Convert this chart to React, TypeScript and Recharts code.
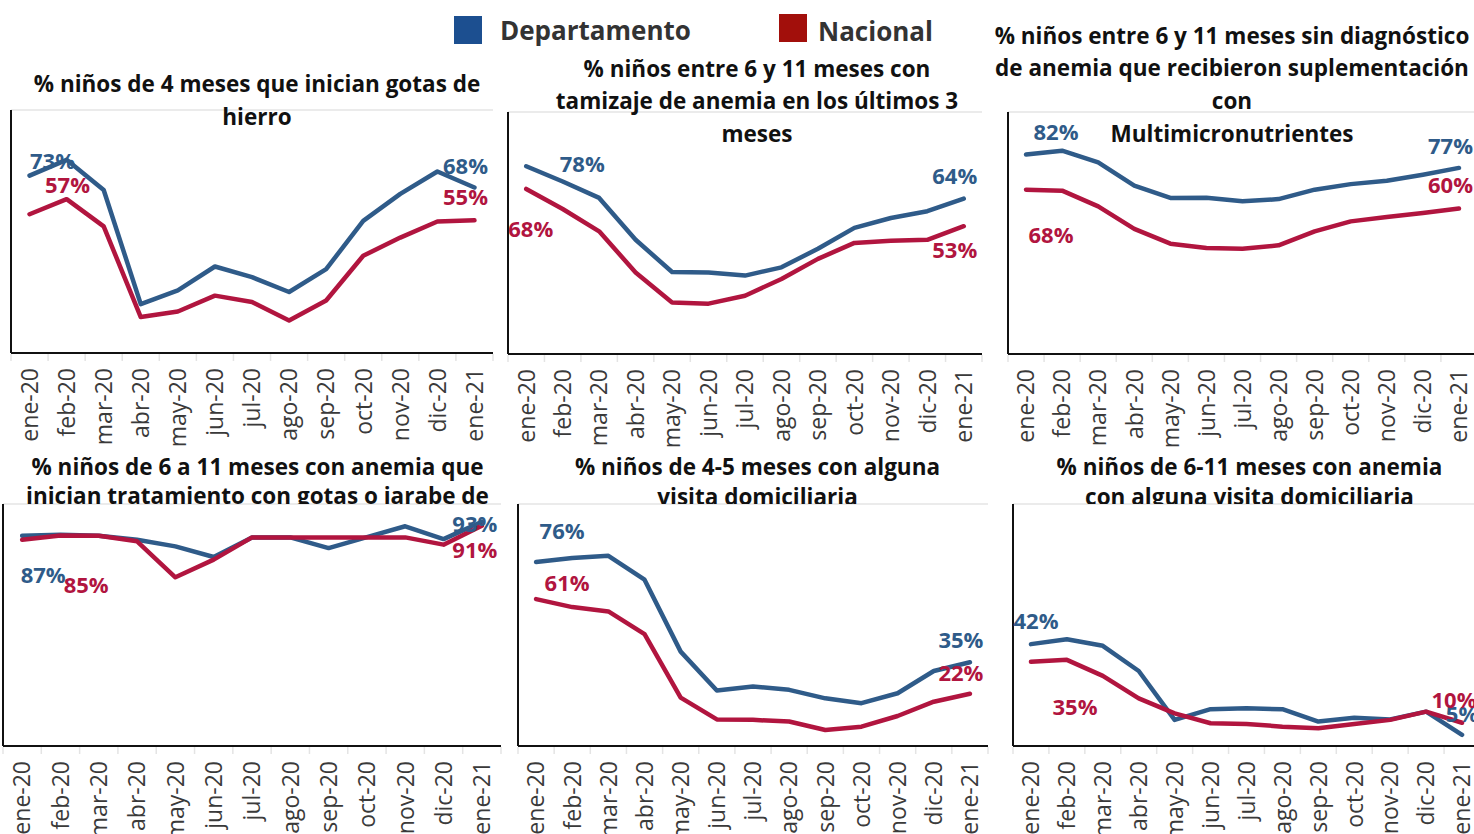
import React from 'react';
import { LineChart, Line, XAxis, YAxis, CartesianGrid } from 'recharts';

const months = ['ene-20', 'feb-20', 'mar-20', 'abr-20', 'may-20', 'jun-20', 'jul-20', 'ago-20', 'sep-20', 'oct-20', 'nov-20', 'dic-20', 'ene-21'];
const yTicks = [0, 10, 20, 30, 40, 50, 60, 70, 80, 90, 100];

const p1Dep = [73, 79.5, 67.1, 20.1, 25.8, 35.6, 31.2, 25.1, 34.5, 54.4, 65.5, 74.7, 68.1];
const p1Nac = [57.1, 63.3, 52.1, 14.8, 17.1, 23.6, 21.0, 13.4, 21.6, 40.0, 47.5, 54.1, 54.6];
const p2Dep = [77.6, 71.3, 64.5, 47.2, 33.9, 33.7, 32.4, 35.8, 43.5, 52.1, 56.2, 59.0, 64.2];
const p2Nac = [68.2, 59.9, 50.7, 33.7, 21.3, 20.8, 24.1, 31.0, 39.3, 45.9, 46.8, 47.2, 52.8];
const p3Dep = [82.4, 84.0, 79.2, 69.6, 64.5, 64.6, 63.1, 64.0, 67.9, 70.2, 71.6, 74.1, 76.9];
const p3Nac = [67.9, 67.5, 61.0, 51.7, 45.6, 43.8, 43.5, 44.9, 50.7, 54.8, 56.6, 58.3, 60.1];
const p4Dep = [86.9, 87.3, 86.9, 85.2, 82.5, 78.1, 86.2, 86.2, 81.8, 86.3, 90.8, 85.5, 92.6];
const p4Nac = [85.2, 87.0, 86.9, 84.6, 69.7, 77.0, 86.2, 86.2, 86.2, 86.2, 86.2, 83.2, 91.0];
const p5Dep = [76.0, 77.7, 78.6, 68.7, 39.0, 22.9, 24.6, 23.2, 19.7, 17.7, 21.8, 31.0, 34.6];
const p5Nac = [60.7, 57.4, 55.6, 46.2, 20.0, 11.0, 10.8, 10.1, 6.6, 8.0, 12.4, 18.3, 21.6];
const p6Dep = [42.1, 44.1, 41.4, 31.0, 10.8, 15.2, 15.6, 15.2, 10.1, 11.7, 11.0, 14.2, 4.6];
const p6Nac = [34.8, 35.6, 29.0, 19.7, 13.5, 9.4, 9.1, 8.0, 7.3, 9.1, 10.8, 14.2, 9.6];

const title1 = ['% niños de 4 meses que inician gotas de', 'hierro'];
const title2 = ['% niños entre 6 y 11 meses con', 'tamizaje de anemia en los últimos 3', 'meses'];
const title3 = ['% niños entre 6 y 11 meses sin diagnóstico', 'de anemia que recibieron suplementación', 'con', 'Multimicronutrientes'];
const title4 = ['% niños de 6 a 11 meses con anemia que', 'inician tratamiento con gotas o jarabe de', 'hierro'];
const title5 = ['% niños de 4-5 meses con alguna', 'visita domiciliaria'];
const title6 = ['% niños de 6-11 meses con anemia', 'con alguna visita domiciliaria'];

const legendNames = ['Departamento', 'Nacional'];

const BLUE = '#2f5b89';
const RED = '#b1153f';
const LEG_BLUE = '#1c4f90';
const LEG_RED = '#a20f0b';
const FONT = "'Open Sans', 'Noto Sans', sans-serif";

type Off = { dx: number; dy: number };
type Panel = {
  dep: number[];
  nac: number[];
  left: number;
  right: number;
  top: number;
  bottom: number;
  depFirst: Off;
  depLast: Off;
  nacFirst: Off;
  nacLast: Off;
};

const panels: Panel[] = [
  { dep: p1Dep, nac: p1Nac, left: 11, right: 493, top: 110, bottom: 353,
    depFirst: { dx: 23, dy: -7 }, nacFirst: { dx: 38, dy: -21 }, depLast: { dx: -9, dy: -14 }, nacLast: { dx: -9, dy: -15 } },
  { dep: p2Dep, nac: p2Nac, left: 508, right: 982, top: 112, bottom: 354,
    depFirst: { dx: 56, dy: 6 }, nacFirst: { dx: 4.5, dy: 48 }, depLast: { dx: -9, dy: -15 }, nacLast: { dx: -9, dy: 32 } },
  { dep: p3Dep, nac: p3Nac, left: 1008, right: 1477, top: 112, bottom: 354,
    depFirst: { dx: 30, dy: -15 }, nacFirst: { dx: 25, dy: 53 }, depLast: { dx: -8.5, dy: -14 }, nacLast: { dx: -8.5, dy: -16 } },
  { dep: p4Dep, nac: p4Nac, left: 3, right: 501, top: 504, bottom: 746,
    depFirst: { dx: 21, dy: 47 }, nacFirst: { dx: 64, dy: 53 }, depLast: { dx: -7, dy: 10 }, nacLast: { dx: -7, dy: 32.5 } },
  { dep: p5Dep, nac: p5Nac, left: 518, right: 988, top: 504, bottom: 746,
    depFirst: { dx: 26, dy: -23 }, nacFirst: { dx: 31, dy: -8 }, depLast: { dx: -9, dy: -14 }, nacLast: { dx: -9, dy: -13 } },
  { dep: p6Dep, nac: p6Nac, left: 1013, right: 1480, top: 504, bottom: 746,
    depFirst: { dx: 5, dy: -15 }, nacFirst: { dx: 44, dy: 53 }, depLast: { dx: 0, dy: -13 }, nacLast: { dx: -8, dy: -14.5 } },
];

const M_TOP = 10;
const M_LEFT = 6;
const Y_W = 1;
const AXIS_H = 95;

const MonthTick = (props: any) => {
  const { x, y, payload, hb, index } = props;
  return (
    <g>
      <line x1={x - hb} x2={x - hb} y1={y + 1} y2={y + 8} stroke="#e4e4e4" strokeWidth={1.5} />
      {index === months.length - 1 && (
        <line x1={x + hb} x2={x + hb} y1={y + 1} y2={y + 8} stroke="#e4e4e4" strokeWidth={1.5} />
      )}
      <text
        transform={`translate(${x},${y + 15}) rotate(-90)`}
        textAnchor="end"
        dy="0.36em"
        fontSize={23}
        fill="#3a3a3a"
        fontFamily={FONT}
      >
        {payload.value}
      </text>
    </g>
  );
};

const makeLabel = (first: Off, last: Off, color: string) => (props: any) => {
  const { x, y, index, value } = props;
  let off: Off | null = null;
  if (index === 0) off = first;
  else if (index === months.length - 1) off = last;
  if (!off || x == null || y == null) return null;
  return (
    <text
      key={`lbl-${index}`}
      x={x + off.dx}
      y={y + off.dy}
      textAnchor="middle"
      fontSize={22}
      fontWeight={700}
      fill={color}
      fontFamily={FONT}
    >
      {`${Math.round(value)}%`}
    </text>
  );
};

const PanelChart = ({ p }: { p: Panel }) => {
  const plotW = p.right - p.left;
  const plotH = p.bottom - p.top;
  const hb = plotW / months.length / 2;
  const data = months.map((m, i) => ({ month: m, dep: p.dep[i], nac: p.nac[i] }));
  return (
    <div style={{ position: 'absolute', left: p.left - M_LEFT - Y_W, top: p.top - M_TOP }}>
      <LineChart
        width={plotW + M_LEFT + Y_W + 20}
        height={plotH + M_TOP + AXIS_H}
        data={data}
        margin={{ top: M_TOP, left: M_LEFT, right: 20, bottom: 0 }}
      >
        <CartesianGrid horizontal vertical={false} stroke="#ebebeb" strokeWidth={1.8} />
        <XAxis
          dataKey="month"
          interval={0}
          height={AXIS_H}
          padding={{ left: hb, right: hb }}
          axisLine={{ stroke: '#111', strokeWidth: 2 }}
          tickLine={false}
          tickSize={0}
          tickMargin={0}
          tick={<MonthTick hb={hb} />}
        />
        <YAxis
          width={Y_W}
          domain={[0, 100]}
          ticks={yTicks}
          tick={false}
          tickLine={false}
          axisLine={{ stroke: '#111', strokeWidth: 2 }}
        />
        <Line
          dataKey="dep"
          stroke={BLUE}
          strokeWidth={4.5}
          dot={false}
          activeDot={false}
          strokeLinejoin="round"
          strokeLinecap="round"
          isAnimationActive={false}
          label={makeLabel(p.depFirst, p.depLast, BLUE)}
        />
        <Line
          dataKey="nac"
          stroke={RED}
          strokeWidth={4.5}
          dot={false}
          activeDot={false}
          strokeLinejoin="round"
          strokeLinecap="round"
          isAnimationActive={false}
          label={makeLabel(p.nacFirst, p.nacLast, RED)}
        />
      </LineChart>
    </div>
  );
};

type TitleSpec = { lines: string[]; cx: number; base: number; gap: number; clip: boolean };
const titles: TitleSpec[] = [
  { lines: title1, cx: 257, base: 91.5, gap: 33, clip: false },
  { lines: title2, cx: 757, base: 76.5, gap: 32.5, clip: false },
  { lines: title3, cx: 1232, base: 43.5, gap: 32.8, clip: false },
  { lines: title4, cx: 257.5, base: 475, gap: 29, clip: true },
  { lines: title5, cx: 757.5, base: 475, gap: 29.5, clip: true },
  { lines: title6, cx: 1249.5, base: 475, gap: 29.5, clip: true },
];

export default function App() {
  return (
    <div
      style={{
        position: 'absolute',
        left: 0,
        top: 0,
        width: 1474,
        height: 834,
        overflow: 'hidden',
        background: '#fff',
        fontFamily: FONT,
      }}
    >
      {panels.map((p, i) => (
        <PanelChart key={i} p={p} />
      ))}
      <svg
        width={1474}
        height={834}
        style={{ position: 'absolute', left: 0, top: 0, pointerEvents: 'none' }}
      >
        <defs>
          <clipPath id="bottomTitleClip">
            <rect x={0} y={430} width={1474} height={74} />
          </clipPath>
        </defs>
        <rect x={454} y={16} width={28} height={28} fill={LEG_BLUE} />
        <text x={500} y={40} fontSize={26} fontWeight={700} fill="#333" fontFamily={FONT}>
          {legendNames[0]}
        </text>
        <rect x={779} y={14} width={28} height={28} fill={LEG_RED} />
        <text x={818} y={40.5} fontSize={26} fontWeight={700} fill="#333" fontFamily={FONT}>
          {legendNames[1]}
        </text>
        {titles.map((t, i) => (
          <g key={i} clipPath={t.clip ? 'url(#bottomTitleClip)' : undefined}>
            {t.lines.map((ln, j) => (
              <text
                key={j}
                x={t.cx}
                y={t.base + j * t.gap}
                textAnchor="middle"
                fontSize={22.5}
                fontWeight={700}
                fill="#111"
                fontFamily={FONT}
              >
                {ln}
              </text>
            ))}
          </g>
        ))}
      </svg>
    </div>
  );
}
